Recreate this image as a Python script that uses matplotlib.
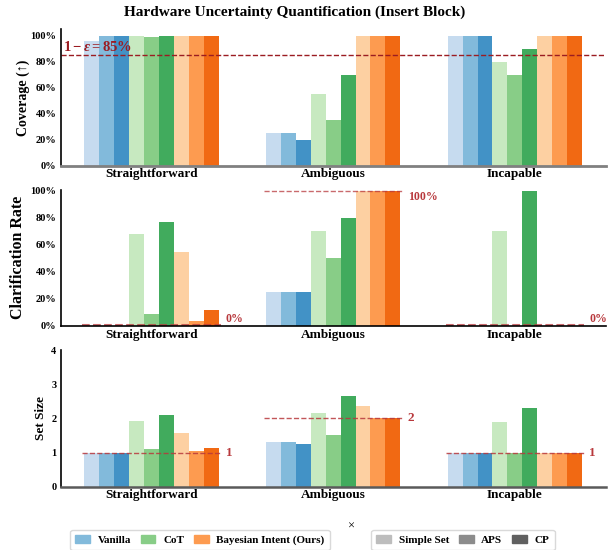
import numpy as np
import matplotlib
matplotlib.use("Agg")
import matplotlib.pyplot as plt
from matplotlib.patches import Patch

plt.rcParams['font.family'] = ['Liberation Serif', 'DejaVu Serif']
plt.rcParams['font.weight'] = 'bold'
plt.rcParams['mathtext.fontset'] = 'custom'
plt.rcParams['mathtext.rm'] = 'Liberation Serif:bold'
plt.rcParams['mathtext.it'] = 'Liberation Serif:italic:bold'
plt.rcParams['mathtext.bf'] = 'Liberation Serif:bold'

scenarios = ['Straightforward', 'Ambiguous', 'Incapable']
methods = ['Vanilla', 'CoT', 'Bayesian Intent (Ours)']
calibrations = ['Simple Set', 'APS', 'CP']

# rows = scenario, cols = Simple Set / APS / CP
cov_vanilla = [[0.96, 1.00, 1.00], [0.25, 0.25, 0.20], [1.00, 1.00, 1.00]]
cov_cot = [[1.00, 0.99, 1.00], [0.55, 0.35, 0.70], [0.80, 0.70, 0.90]]
cov_bayes = [[1.00, 1.00, 1.00], [1.00, 1.00, 1.00], [1.00, 1.00, 1.00]]

clar_vanilla = [[0.0, 0.0, 0.0], [0.25, 0.25, 0.25], [0.0, 0.0, 0.0]]
clar_cot = [[0.68, 0.09, 0.77], [0.70, 0.50, 0.80], [0.70, 0.0, 1.00]]
clar_bayes = [[0.55, 0.04, 0.12], [1.00, 1.00, 1.00], [0.0, 0.0, 0.0]]

size_vanilla = [[1.0, 1.0, 1.0], [1.30, 1.30, 1.25], [1.0, 1.0, 1.0]]
size_cot = [[1.92, 1.10, 2.10], [2.17, 1.52, 2.67], [1.90, 1.00, 2.30]]
size_bayes = [[1.57, 1.04, 1.13], [2.37, 2.00, 2.00], [1.00, 1.00, 1.00]]

target_coverage = 0.85
ideal_clar = [0.0, 1.0, 0.0]
ideal_clar_labels = ['0%', '100%', '0%']
ideal_size = [1, 2, 1]

colors = {
    'Vanilla': ['#c6dbef', '#82badb', '#4292c6'],
    'CoT': ['#c7e9c0', '#88cd87', '#41ab5d'],
    'Bayesian Intent (Ours)': ['#fdd0a2', '#fd9b50', '#f16913'],
}
grays = ['#bdbdbd', '#8c8c8c', '#606060']
red = '#9b1c22'
soft_red = '#b8383c'

fig = plt.figure(figsize=(6.13, 5.5), dpi=100)
h = 0.248
ax1 = fig.add_axes([0.099, 0.6987, 0.889, h])
ax2 = fig.add_axes([0.099, 0.4073, 0.889, h])
ax3 = fig.add_axes([0.099, 0.1151, 0.889, h])

x = np.arange(len(scenarios))
w = 0.082


def draw_bars(ax, vanilla, cot, bayes):
    data = [vanilla, cot, bayes]
    k = 0
    for m, vals in zip(methods, data):
        vals = np.array(vals)
        for c in range(3):
            ax.bar(x + (k - 4) * w, vals[:, c], w, color=colors[m][c], linewidth=0)
            k += 1
    ax.set_xlim(-0.5, 2.5)
    ax.set_xticks(x)
    ax.set_xticklabels(scenarios, fontsize=9.5, fontweight='bold')
    ax.tick_params(axis='both', length=0)
    ax.tick_params(axis='y', labelsize=7.5, pad=3)
    ax.tick_params(axis='x', pad=2)
    for s in ['top', 'right']:
        ax.spines[s].set_visible(False)
    ax.spines['left'].set_linewidth(1.2)


# coverage
draw_bars(ax1, cov_vanilla, cov_cot, cov_bayes)
ax1.set_ylim(0, 1.05)
ax1.set_yticks(np.arange(0, 1.01, 0.2))
ax1.set_yticklabels([f'{int(round(v * 100))}%' for v in np.arange(0, 1.01, 0.2)])
ax1.axhline(target_coverage, color=red, linestyle='--', linewidth=1)
ax1.text(-0.49, 0.862, r'$1-\varepsilon=85\%$', color=red, fontsize=10.5,
         ha='left', va='bottom')
ax1.set_ylabel('Coverage (↑)', fontsize=10, fontweight='bold')
ax1.yaxis.set_label_coords(-0.056, 0.5)
ax1.spines['bottom'].set_color('#808080')
ax1.spines['bottom'].set_linewidth(2)

# clarification rate
draw_bars(ax2, clar_vanilla, clar_cot, clar_bayes)
ax2.set_ylim(0, 1.01)
ax2.set_yticks(np.arange(0, 1.01, 0.2))
ax2.set_yticklabels([f'{int(round(v * 100))}%' for v in np.arange(0, 1.01, 0.2)])
for i in range(3):
    yv = ideal_clar[i] if ideal_clar[i] > 0 else 0.01
    ax2.hlines(yv, x[i] - 0.38, x[i] + 0.38, colors=soft_red, linestyles='--',
               linewidth=1.5 if ideal_clar[i] == 0 else 1, alpha=0.75)
    ax2.text(x[i] + 0.41, yv, ideal_clar_labels[i], color=soft_red, fontsize=8.5,
             ha='left', va='bottom' if ideal_clar[i] == 0 else 'top')
ax2.set_ylabel('Clarification Rate', fontsize=11.5, fontweight='bold')
ax2.yaxis.set_label_coords(-0.063, 0.5)
ax2.spines['bottom'].set_linewidth(1.2)

# set size
draw_bars(ax3, size_vanilla, size_cot, size_bayes)
ax3.set_ylim(0, 4)
ax3.set_yticks([0, 1, 2, 3, 4])
for i in range(3):
    ax3.hlines(ideal_size[i], x[i] - 0.38, x[i] + 0.38, colors=soft_red,
               linestyles='--', linewidth=1, alpha=0.85)
    ax3.text(x[i] + 0.41, ideal_size[i], str(ideal_size[i]), color=soft_red,
             fontsize=9.5, ha='left', va='center')
ax3.set_ylabel('Set Size', fontsize=9.5, fontweight='bold')
ax3.yaxis.set_label_coords(-0.025, 0.5)
ax3.spines['bottom'].set_color('#5a5a5a')
ax3.spines['bottom'].set_linewidth(1.8)

fig.suptitle('Hardware Uncertainty Quantification (Insert Block)', fontsize=11,
             fontweight='bold', x=0.48, y=0.99)

# legends
h1 = [Patch(color=colors[m][1], label=m) for m in methods]
h2 = [Patch(color=g, label=c) for g, c in zip(grays, calibrations)]
leg_kw = dict(ncol=3, frameon=True, handlelength=1.3, handleheight=0.7,
              columnspacing=0.9, handletextpad=0.7, borderpad=0.45, edgecolor='#d0d0d0',
              prop={'weight': 'bold', 'size': 8})
fig.legend(handles=h1, loc='center', bbox_to_anchor=(200 / 613, 1 - 540 / 550), **leg_kw)
fig.legend(handles=h2, loc='center', bbox_to_anchor=(463 / 613, 1 - 540 / 550), **leg_kw)
fig.text(351 / 613, 1 - 527 / 550, '×', ha='center', va='center', fontsize=9,
         fontweight='normal')

fig.savefig('out.png', dpi=100)
